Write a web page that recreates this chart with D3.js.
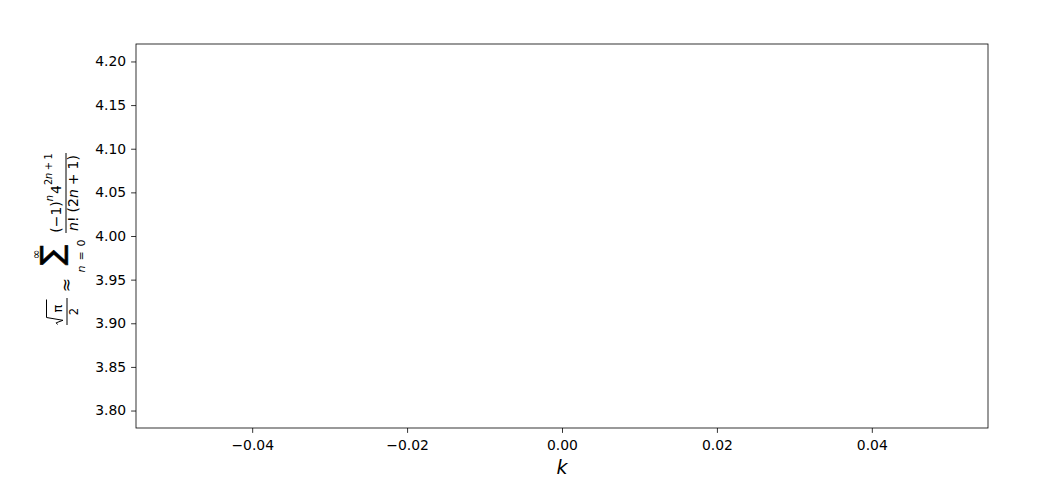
<!DOCTYPE html>
<html>
<head>
<meta charset="utf-8">
<script src="https://cdn.jsdelivr.net/npm/d3@7"></script>
<style>
  body { margin: 0; background: #fff; }
  svg text { font-family: 'DejaVu Sans', sans-serif; fill: #000; }
</style>
</head>
<body>
<svg id="chart"></svg>
<script>
// axis limits and tick labels (the plot itself holds no marks)
let xDomain = [-0.055, 0.055]
let yDomain = [3.78, 4.22]
let xTicks = [-0.04, -0.02, 0.00, 0.02, 0.04]
let yTicks = [3.80, 3.85, 3.90, 3.95, 4.00, 4.05, 4.10, 4.15, 4.20]
let xLabel = 'k'

let width = 1056
let height = 482
let margin = { top: 44, right: 68, bottom: 54, left: 136 }

let tickLen = 4.9
let fontSize = 13.9

let svg = d3.select('#chart')
  .attr('width', width)
  .attr('height', height)

let xScale = d3.scaleLinear()
  .domain(xDomain)
  .range([margin.left, width - margin.right])

let yScale = d3.scaleLinear()
  .domain(yDomain)
  .range([height - margin.bottom, margin.top])

let fmt = d3.format('.2f')

let xAxis = d3.axisBottom(xScale)
  .tickValues(xTicks)
  .tickFormat(fmt)
  .tickSize(tickLen)
  .tickPadding(7)

let yAxis = d3.axisLeft(yScale)
  .tickValues(yTicks)
  .tickFormat(fmt)
  .tickSize(tickLen)
  .tickPadding(5)

let gx = svg.append('g')
  .attr('transform', 'translate(0,' + (height - margin.bottom) + ')')
  .call(xAxis)

let gy = svg.append('g')
  .attr('transform', 'translate(' + margin.left + ',0)')
  .call(yAxis)

;[gx, gy].forEach(g => {
  g.select('.domain').remove()
  g.selectAll('.tick line').attr('stroke', '#000').attr('stroke-width', 0.8)
  g.selectAll('.tick text')
    .style('font-family', "'DejaVu Sans', sans-serif")
    .style('font-size', fontSize + 'px')
    .attr('fill', '#000')
})

// axes frame
svg.append('rect')
  .attr('x', xScale.range()[0])
  .attr('y', yScale.range()[1])
  .attr('width', xScale.range()[1] - xScale.range()[0])
  .attr('height', yScale.range()[0] - yScale.range()[1])
  .attr('fill', 'none')
  .attr('stroke', '#000')
  .attr('stroke-width', 0.8)

// x label
svg.append('text')
  .attr('x', (xScale.range()[0] + xScale.range()[1]) / 2)
  .attr('y', 474)
  .attr('text-anchor', 'middle')
  .style('font-size', '19px')
  .style('font-style', 'italic')
  .text(xLabel)

// y label: sqrt(pi)/2 ≈ sum_{n=0}^{inf} (-1)^n 4^{2n+1} / (n! (2n+1))
// drawn in a rotated frame: x runs along the text, y grows "downwards" (screen right)
let yMid = (yScale.range()[0] + yScale.range()[1]) / 2
let lab = svg.append('g')
  .attr('transform', 'translate(66,' + yMid + ') rotate(-90)')

let small = 11.5
let big = 14

// sqrt(pi) / 2
lab.append('line')
  .attr('x1', -89).attr('x2', -62).attr('y1', 1).attr('y2', 1)
  .attr('stroke', '#000').attr('stroke-width', 1)
lab.append('path')
  .attr('d', 'M-88.5,-8.5 L-86.8,-9.8 L-84.3,-3 L-81.5,-19.5 L-63.5,-19.5')
  .attr('fill', 'none').attr('stroke', '#000').attr('stroke-width', 1)
lab.append('text')
  .attr('x', -72.5).attr('y', -4)
  .attr('text-anchor', 'middle')
  .style('font-size', '13px')
  .text('π')
lab.append('text')
  .attr('x', -75.5).attr('y', 12)
  .attr('text-anchor', 'middle')
  .style('font-size', small + 'px')
  .text('2')

// approx sign
lab.append('text')
  .attr('x', -49).attr('y', 5.5)
  .attr('text-anchor', 'middle')
  .style('font-size', '17px')
  .text('≈')

// sum with limits
lab.append('text')
  .attr('x', -19).attr('y', -4)
  .attr('text-anchor', 'middle')
  .style('font-size', '30px')
  .attr('stroke', '#000')
  .attr('stroke-width', 0.6)
  .text('∑')
lab.append('text')
  .attr('x', -18.5).attr('y', -26.5)
  .attr('text-anchor', 'middle')
  .style('font-size', small + 'px')
  .text('∞')
let lim = lab.append('text')
  .attr('x', -20).attr('y', 19)
  .attr('text-anchor', 'middle')
  .style('font-size', '11px')
lim.append('tspan').style('font-style', 'italic').text('n')
lim.append('tspan').attr('dx', 5).text('=')
lim.append('tspan').attr('dx', 5).text('0')

// big fraction
lab.append('line')
  .attr('x1', 3).attr('x2', 83).attr('y1', 0).attr('y2', 0)
  .attr('stroke', '#000').attr('stroke-width', 1)

let num = lab.append('text')
  .attr('x', 43).attr('y', -5)
  .attr('text-anchor', 'middle')
  .style('font-size', big + 'px')
num.append('tspan').text('(−1)')
num.append('tspan').attr('dy', -8).style('font-size', '9.8px').style('font-style', 'italic').text('n')
num.append('tspan').attr('dy', 8).attr('dx', 1).text('4')
num.append('tspan').attr('dy', -9).style('font-size', '9.8px').text('2')
num.append('tspan').style('font-size', '9.8px').style('font-style', 'italic').text('n')
num.append('tspan').attr('dx', 2.5).style('font-size', '9.8px').text('+')
num.append('tspan').attr('dx', 2.5).style('font-size', '9.8px').text('1')

let den = lab.append('text')
  .attr('x', 43).attr('y', 12)
  .attr('text-anchor', 'middle')
  .style('font-size', big + 'px')
den.append('tspan').style('font-style', 'italic').text('n')
den.append('tspan').text('!')
den.append('tspan').attr('dx', 4).text('(2')
den.append('tspan').style('font-style', 'italic').text('n')
den.append('tspan').attr('dx', 4).text('+')
den.append('tspan').attr('dx', 4).text('1)')
</script>
</body>
</html>
